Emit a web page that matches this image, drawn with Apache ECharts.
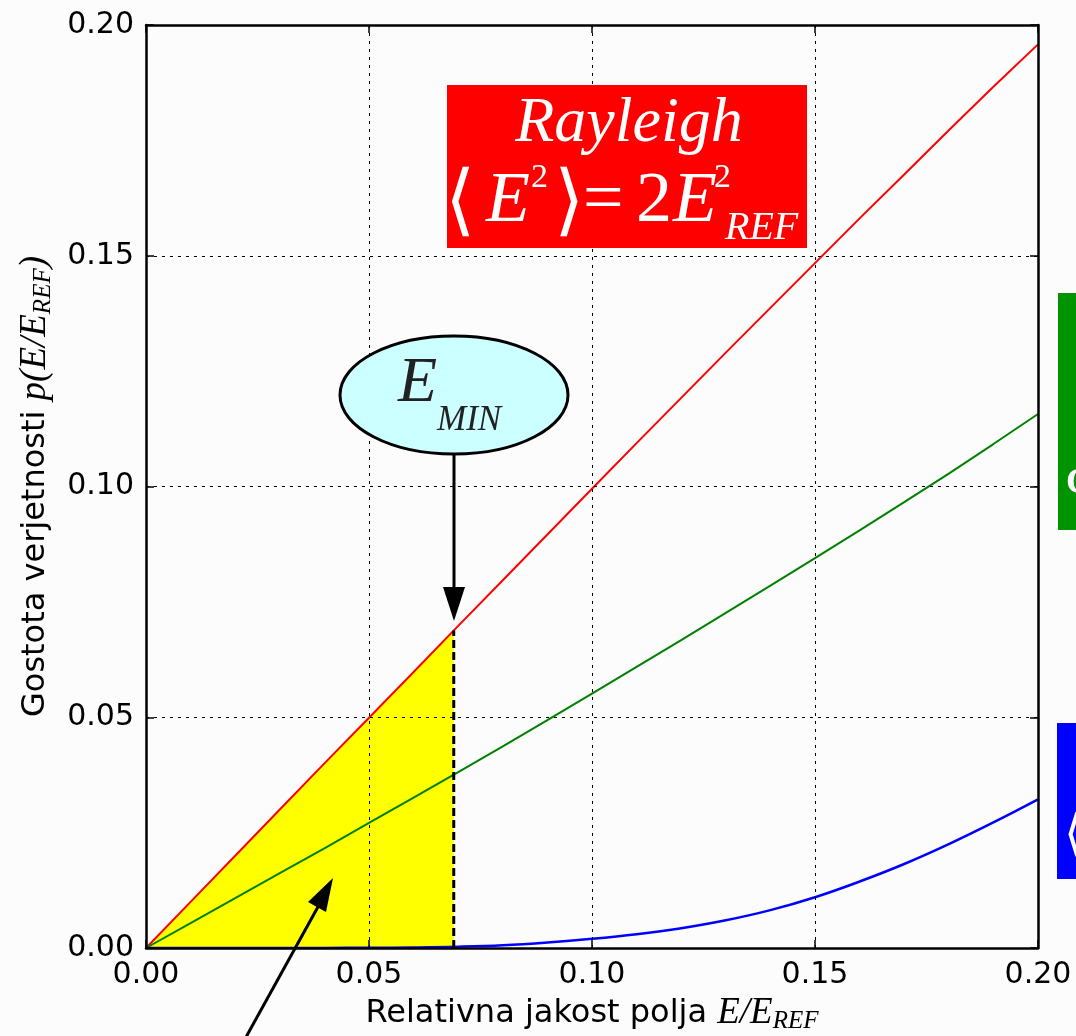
<!DOCTYPE html>
<html>
<head>
<meta charset="utf-8">
<script src="https://cdn.jsdelivr.net/npm/echarts@6/dist/echarts.min.js"></script>
<style>
html,body{margin:0;padding:0;background:#fcfcfc;}
#c{width:1076px;height:1036px;}
</style>
</head>
<body>
<div id="c"></div>
<script>
// ---- data ----
const xs       = [0.00, 0.01, 0.02, 0.03, 0.04, 0.05, 0.06, 0.07, 0.08, 0.09, 0.10,
                  0.11, 0.12, 0.13, 0.14, 0.15, 0.16, 0.17, 0.18, 0.19, 0.20];
const rayleigh = [0.0000, 0.0100, 0.0200, 0.0300, 0.0400, 0.0499, 0.0598, 0.0698, 0.0797, 0.0896, 0.0995,
                  0.1094, 0.1192, 0.1290, 0.1387, 0.1484, 0.1581, 0.1676, 0.1772, 0.1866, 0.1958];
const greenCurve = [0.0000, 0.0054, 0.0108, 0.0162, 0.0216, 0.0271, 0.0326, 0.0381, 0.0437, 0.0494, 0.0551,
                  0.0609, 0.0667, 0.0726, 0.0785, 0.0845, 0.0905, 0.0966, 0.1028, 0.1092, 0.1157];
const blueCurve  = [0.0000, 0.0000, 0.0000, 0.0000, 0.00002, 0.00005, 0.00012, 0.00028, 0.0006, 0.0012, 0.0020,
                  0.0030, 0.0043, 0.0060, 0.0082, 0.0110, 0.0144, 0.0182, 0.0225, 0.0272, 0.0322];
const eMin = 0.069;            // E_MIN position on x axis
const rayleighAtEMin = 0.0688; // red curve value at E_MIN
const xTickLabels = ['0.00', '0.05', '0.10', '0.15', '0.20'];
const yTickLabels = ['0.00', '0.05', '0.10', '0.15', '0.20'];

// ---- build series data ----
const pairs = (ys) => xs.map((x, i) => [x, ys[i]]);
const fillData = xs.map((x, i) => [x, rayleigh[i]]).filter(p => p[0] < eMin);
fillData.push([eMin, rayleighAtEMin]);
const dashData = [[eMin, 0], [eMin, rayleighAtEMin]];

const chart = echarts.init(document.getElementById('c'), null, {renderer: 'canvas'});

const tickFont = {fontFamily: 'DejaVu Sans', fontSize: 30, color: '#000'};
const mathRich = {
  m: {fontFamily: 'Liberation Serif', fontStyle: 'italic', fontSize: 37, color: '#000'},
  s: {fontFamily: 'Liberation Serif', fontStyle: 'italic', fontSize: 25, color: '#000', verticalAlign: 'bottom', padding: [16, 0, 0, 0]}
};

const baseAxis = {
  type: 'value', min: 0, max: 0.2, interval: 0.05, z: 3,
  axisLine: {show: true, onZero: false, lineStyle: {color: '#000', width: 2.5}},
  axisTick: {show: true, inside: true, length: 8, lineStyle: {color: '#000', width: 1.5}},
};

const serif = 'Liberation Serif';
function txt(x, y, text, size, opts) {
  return {
    type: 'text', z: 100, x: x, y: y,
    style: Object.assign({
      text: text, fill: '#fff', fontFamily: serif, fontStyle: 'italic',
      fontSize: size, align: 'left', verticalAlign: 'middle'
    }, opts || {})
  };
}
const bracket = {fontFamily: 'DejaVu Serif', fontStyle: 'normal', fontWeight: 'lighter'};

const option = {
  backgroundColor: '#fcfcfc',
  animation: false,
  grid: {left: 146, right: 38, top: 25, bottom: 88, containLabel: false, outerBoundsMode: 'none'},
  xAxis: [
    Object.assign({}, baseAxis, {
      position: 'bottom',
      name: 'Relativna jakost polja {m|E/E}{s|REF}',
      nameLocation: 'middle', nameGap: 44,
      nameTextStyle: {fontFamily: 'DejaVu Sans', fontSize: 32, color: '#000', rich: mathRich},
      axisLabel: Object.assign({margin: 12, formatter: (v) => xTickLabels[Math.round(v / 0.05)]}, tickFont),
      splitLine: {show: true, lineStyle: {color: '#000', width: 1, type: [3, 5]}}
    }),
    Object.assign({}, baseAxis, {
      position: 'top', axisLabel: {show: false}, splitLine: {show: false}
    })
  ],
  yAxis: [
    Object.assign({}, baseAxis, {
      position: 'left',
      name: 'Gostota verjetnosti {m|p(E/E}{s|REF}{m|)}',
      nameLocation: 'middle', nameGap: 90,
      nameTextStyle: {fontFamily: 'DejaVu Sans', fontSize: 32, color: '#000', rich: mathRich},
      axisLabel: Object.assign({margin: 12, formatter: (v) => yTickLabels[Math.round(v / 0.05)]}, tickFont),
      splitLine: {show: true, lineStyle: {color: '#000', width: 1, type: [3, 5]}}
    }),
    Object.assign({}, baseAxis, {
      position: 'right', axisLabel: {show: false}, splitLine: {show: false}
    })
  ],
  series: [
    {
      name: 'fill', type: 'line', data: fillData, showSymbol: false, silent: true, z: 1,
      lineStyle: {width: 0}, areaStyle: {color: '#ffff00', opacity: 1}
    },
    {
      name: 'Rayleigh', type: 'line', data: pairs(rayleigh), showSymbol: false, z: 2,
      lineStyle: {color: '#ff0000', width: 2}
    },
    {
      name: 'green', type: 'line', data: pairs(greenCurve), showSymbol: false, z: 2,
      lineStyle: {color: '#008000', width: 2}
    },
    {
      name: 'blue', type: 'line', data: pairs(blueCurve), showSymbol: false, z: 2,
      smooth: 0.4,
      lineStyle: {color: '#0000ff', width: 2.5, join: 'round'}
    },
    {
      name: 'emin', type: 'line', data: dashData, showSymbol: false, z: 5,
      lineStyle: {color: '#000', width: 3, type: [8, 4]}
    }
  ],
  graphic: [
    // Rayleigh box
    {type: 'rect', z: 90, shape: {x: 447, y: 85, width: 360, height: 163}, style: {fill: '#ff0000'}},
    txt(629, 124, 'Rayleigh', 64, {align: 'center'}),
    txt(445, 206, '⟨', 78, bracket),
    txt(486, 202, 'E', 72),
    txt(531, 178, '2', 34, {fontStyle: 'normal'}),
    txt(554, 206, '⟩', 78, bracket),
    txt(583, 202, '=', 72, {fontStyle: 'normal'}),
    txt(636, 202, '2', 72, {fontStyle: 'normal'}),
    txt(673, 202, 'E', 72),
    txt(714, 178, '2', 34, {fontStyle: 'normal'}),
    txt(725, 228, 'REF', 40),
    // E_MIN ellipse
    {type: 'ellipse', z: 90, shape: {cx: 454, cy: 395, rx: 114, ry: 59},
     style: {fill: '#ccffff', stroke: '#000', lineWidth: 3}},
    txt(398, 384, 'E', 64, {fill: '#222'}),
    txt(437, 421, 'MIN', 35, {fill: '#222'}),
    // arrow from ellipse down to E_MIN
    {type: 'line', z: 95, shape: {x1: 454, y1: 454, x2: 454, y2: 592}, style: {stroke: '#000', lineWidth: 3}},
    {type: 'polygon', z: 95, shape: {points: [[443, 587], [465, 587], [454, 621]]}, style: {fill: '#000'}},
    // arrow from below into the yellow area
    {type: 'line', z: 95, shape: {x1: 240, y1: 1048, x2: 319, y2: 905}, style: {stroke: '#000', lineWidth: 3}},
    {type: 'polygon', z: 95, shape: {points: [[308, 902], [326, 912], [333, 878]]}, style: {fill: '#000'}},
    // green box (cut by the right edge)
    {type: 'rect', z: 90, shape: {x: 1058, y: 293, width: 40, height: 237}, style: {fill: '#009400'}},
    txt(1066, 484, 'C', 36, {fontStyle: 'normal', fontWeight: 'bold'}),
    // blue box (cut by the right edge)
    {type: 'rect', z: 90, shape: {x: 1057, y: 723, width: 40, height: 156}, style: {fill: '#0000ff'}},
    txt(1064, 837, '⟨', 50, bracket)
  ]
};
chart.setOption(option);
</script>
</body>
</html>
